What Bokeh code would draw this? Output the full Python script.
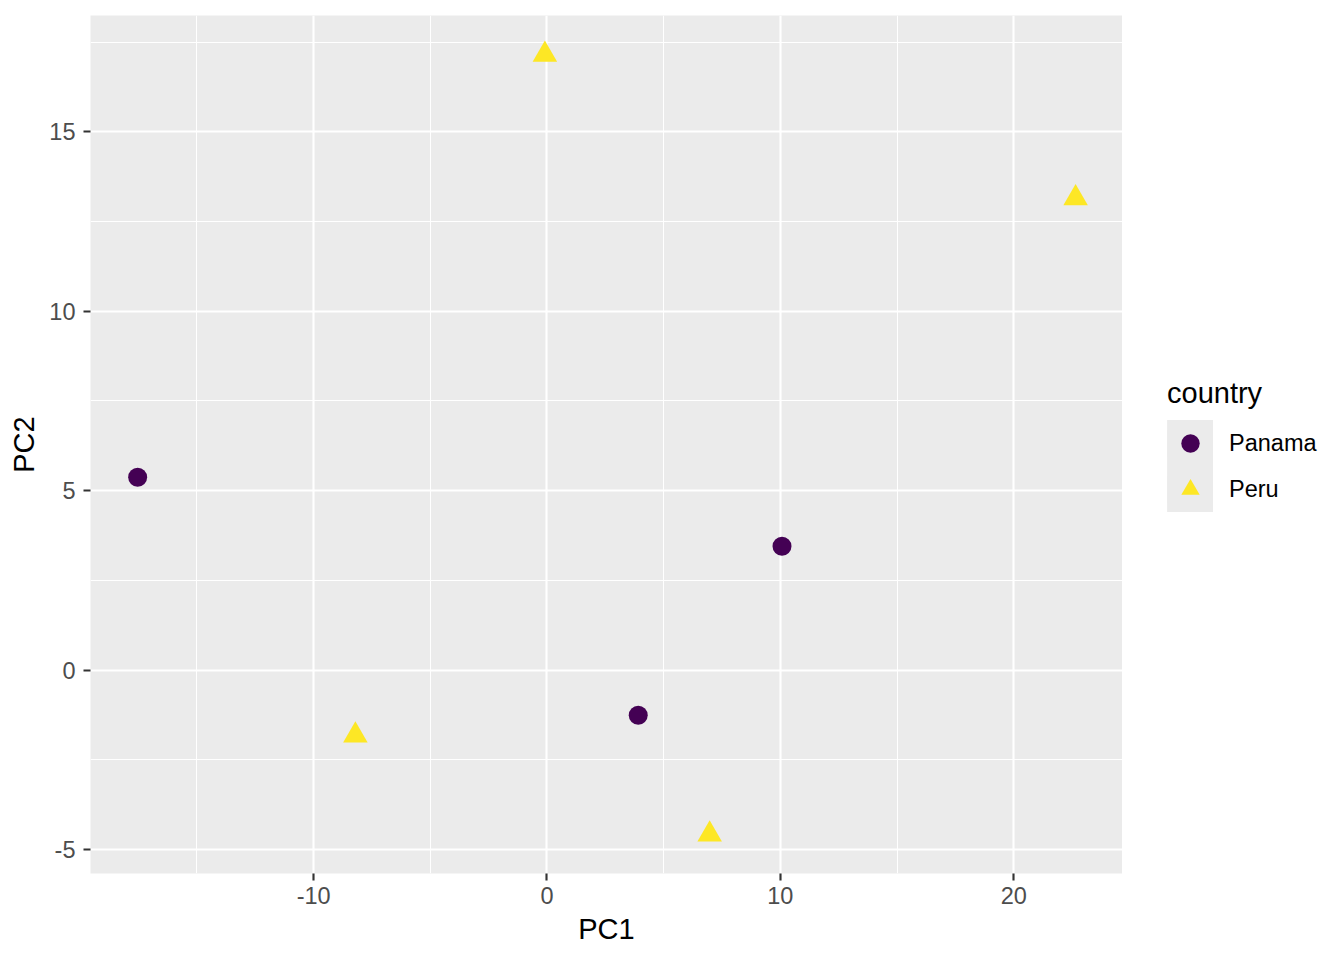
import math
from bokeh.plotting import figure
from bokeh.layouts import row
from bokeh.models import Range1d, FixedTicker, Legend, LegendItem
from bokeh.embed import file_html
from bokeh.resources import INLINE

# ---- data ----
countries = ["Panama", "Peru"]
panama_pc1 = [-17.54, 10.07, 3.91]
panama_pc2 = [5.37, 3.45, -1.26]
peru_pc1 = [-0.09, 22.65, -8.21, 6.97]
peru_pc2 = [17.15, 13.15, -1.82, -4.58]
x_ticks = [-10, 0, 10, 20]
x_minor = [-15, -5, 5, 15]
y_ticks = [-5, 0, 5, 10, 15]
y_minor = [-2.5, 2.5, 7.5, 12.5, 17.5]
colors = ["#440154", "#FDE725"]
markers = ["circle", "triangle"]

FONT = "Liberation Sans"
W, H = 1344, 960
LEG_W = 222

p = figure(width=W - LEG_W, height=H, output_backend="svg", toolbar_location=None,
           x_range=Range1d(-19.56, 24.66), y_range=Range1d(-5.67, 18.24),
           min_border_left=90, min_border_right=0, min_border_top=15, min_border_bottom=87,
           background_fill_color="#EBEBEB", border_fill_color="white",
           outline_line_color=None)

xt = FixedTicker(ticks=x_ticks, minor_ticks=x_minor)
yt = FixedTicker(ticks=y_ticks, minor_ticks=y_minor)
p.xaxis[0].ticker = xt
p.yaxis[0].ticker = yt
p.xgrid[0].ticker = xt
p.ygrid[0].ticker = yt

for g in (p.xgrid[0], p.ygrid[0]):
    g.grid_line_color = "white"
    g.grid_line_width = 2.13
    g.minor_grid_line_color = "white"
    g.minor_grid_line_width = 1.07

p.xaxis.axis_label = "PC1"
p.yaxis.axis_label = "PC2"
for ax in (p.xaxis[0], p.yaxis[0]):
    ax.axis_line_color = None
    ax.major_tick_line_color = "#333333"
    ax.major_tick_line_width = 2.13
    ax.major_tick_out = 7
    ax.major_tick_in = 0
    ax.minor_tick_line_color = None
    ax.major_label_text_font = FONT
    ax.major_label_text_font_size = "23.5px"
    ax.major_label_text_color = "#4D4D4D"
    ax.major_label_standoff = 6
    ax.axis_label_text_font = FONT
    ax.axis_label_text_font_size = "29px"
    ax.axis_label_text_font_style = "normal"
    ax.axis_label_text_color = "black"
    ax.axis_label_standoff = 6
p.yaxis[0].major_label_standoff = 8
p.xaxis[0].major_label_overrides = {t: str(t) for t in x_ticks if t < 0}
p.yaxis[0].major_label_overrides = {t: str(t) for t in y_ticks if t < 0}

p.scatter(panama_pc1, panama_pc2, marker=markers[0], size=19,
          fill_color=colors[0], line_color=None)
p.scatter(peru_pc1, peru_pc2, marker=markers[1], size=24.5,
          fill_color=colors[1], line_color=None)

# ---- legend area (a second, axis-less figure to the right) ----
L = figure(width=LEG_W, height=H, output_backend="svg", toolbar_location=None,
           x_range=Range1d(0, LEG_W), y_range=Range1d(0, H),
           x_axis_location=None, y_axis_location=None,
           min_border_left=0, min_border_right=0, min_border_top=0, min_border_bottom=0,
           background_fill_color="white", border_fill_color="white",
           outline_line_color=None)
L.grid.visible = False

nan = [math.nan]
bg = L.rect(x=nan, y=nan, width=1, height=1, fill_color="#EBEBEB",
            line_color="#EBEBEB", line_width=10, line_join="miter")
items = []
for name, col, mk in zip(countries, colors, markers):
    r = L.scatter(x=nan, y=nan, marker=mk, fill_color=col, line_color=None)
    items.append(LegendItem(label=name, renderers=[bg, r]))

legend = Legend(
    items=items, title="country", location=(45, 361),
    glyph_width=46, glyph_height=46, spacing=0, padding=0, margin=0,
    label_standoff=16, border_line_color=None, background_fill_alpha=0,
    label_text_font=FONT, label_text_font_size="23.5px", label_text_color="black",
    title_text_font=FONT, title_text_font_size="29px", title_text_font_style="normal",
    title_text_color="black", title_standoff=10,
)
L.add_layout(legend)

layout = row(p, L, spacing=0)
open("out.html", "w").write(file_html(layout, INLINE))
